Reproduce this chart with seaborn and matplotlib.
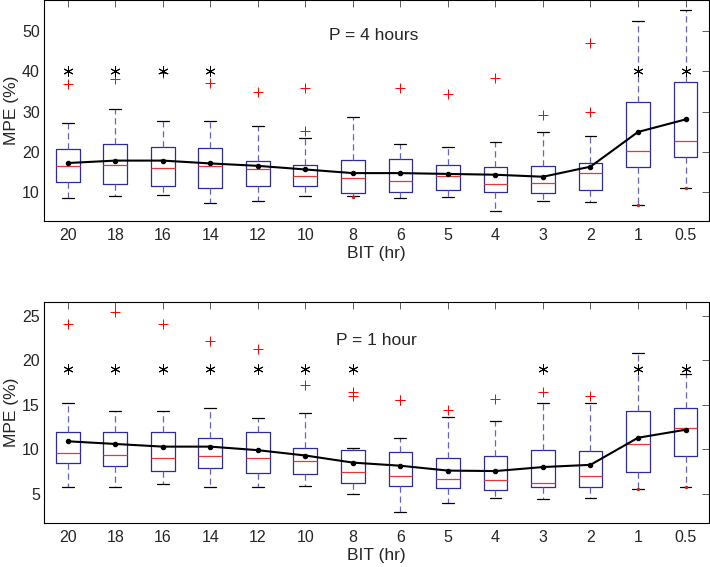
import numpy as np
import pandas as pd
import matplotlib
matplotlib.use("Agg")
import matplotlib.pyplot as plt
import seaborn as sns

bit = ["20", "18", "16", "14", "12", "10", "8", "6", "5", "4", "3", "2", "1", "0.5"]

p4_lo = [8.6, 9.1, 9.3, 7.5, 7.8, 9.1, 9.1, 8.6, 9.0, 5.5, 7.85, 7.6, 7.0, 11.2]
p4_q1 = [12.5, 12.0, 11.5, 11.0, 11.5, 11.5, 9.75, 10.2, 10.6, 10.2, 9.75, 10.7, 16.2, 18.9]
p4_med = [16.5, 16.8, 16.0, 16.5, 15.8, 14.0, 13.6, 12.8, 14.1, 12.2, 12.3, 14.8, 20.3, 22.7]
p4_q3 = [20.7, 21.9, 21.2, 20.9, 17.8, 16.7, 18.0, 18.4, 16.7, 16.2, 16.5, 17.2, 32.4, 37.3]
p4_hi = [27.1, 30.6, 27.8, 27.6, 26.4, 23.4, 28.8, 21.9, 21.2, 22.5, 25.1, 23.9, 52.5, 55.2]
p4_mean = [17.3, 17.9, 17.9, 17.2, 16.6, 15.7, 14.8, 14.8, 14.6, 14.4, 13.9, 16.4, 25.0, 28.1]
p4_out_bit = ["20", "18", "16", "14", "12", "10", "10", "6", "5", "4", "3", "2", "2"]
p4_out_val = [37.0, 38.0, 39.7, 37.1, 35.0, 25.2, 35.8, 35.8, 34.3, 38.3, 29.1, 29.9, 47.0]
p4_dot_bit = ["8", "1", "0.5"]
p4_dot_val = [9.0, 7.0, 11.2]
p4_star_bit = ["20", "18", "16", "14", "1", "0.5"]
p4_star_val = [40.0, 40.0, 40.0, 40.0, 40.0, 40.0]

# P = 1 hour
p1_lo = [5.7, 5.7, 6.05, 5.7, 5.7, 5.9, 5.0, 2.9, 3.9, 4.55, 4.45, 4.55, 5.55, 5.8]
p1_q1 = [8.45, 8.15, 7.5, 7.9, 7.3, 7.2, 6.2, 5.9, 5.6, 5.45, 5.7, 5.7, 7.4, 9.3]
p1_med = [9.6, 9.4, 9.05, 9.2, 9.05, 8.7, 7.4, 6.95, 6.7, 6.5, 6.2, 7.0, 10.6, 12.4]
p1_q3 = [12.0, 12.0, 11.9, 11.3, 12.0, 10.2, 9.9, 9.7, 9.05, 9.3, 9.9, 9.85, 14.3, 14.7]
p1_hi = [15.2, 14.3, 14.3, 14.7, 13.5, 14.1, 10.2, 11.3, 13.6, 13.2, 15.2, 15.2, 20.8, 18.5]
p1_mean = [10.9, 10.6, 10.3, 10.3, 9.9, 9.3, 8.5, 8.15, 7.6, 7.55, 8.0, 8.25, 11.3, 12.2]
p1_out_bit = ["20", "18", "16", "14", "12", "10", "8", "8", "6", "6", "5", "4", "3", "2"]
p1_out_val = [24.1, 25.5, 24.1, 22.2, 21.3, 17.2, 16.0, 16.4, 15.5, 15.6, 14.4, 15.7, 16.5, 16.0]
p1_dot_bit = ["1", "0.5"]
p1_dot_val = [5.55, 5.8]
p1_star_bit = ["20", "18", "16", "14", "12", "10", "8", "3", "1", "0.5"]
p1_star_val = [19.0, 19.0, 19.0, 19.0, 19.0, 19.0, 19.0, 19.0, 19.0, 19.0]

sns.set_style("white")
plt.rcParams["font.family"] = ["Liberation Sans", "DejaVu Sans"]

box_c = "#2c2c9c"
whisk_c = "#6464c8"
med_c = "#e03a3a"


def five_number_frame(lo, q1, med, q3, hi):
    rows = []
    for i, b in enumerate(bit):
        for v in (lo[i], q1[i], med[i], q3[i], hi[i]):
            rows.append((b, v))
    return pd.DataFrame(rows, columns=["BIT", "MPE"])


def draw_panel(ax, lo, q1, med, q3, hi, mean, out_bit, out_val, dot_bit, dot_val,
               star_bit, star_val, ylim, yticks, label, label_xy):
    df = five_number_frame(lo, q1, med, q3, hi)
    sns.boxplot(data=df, x="BIT", y="MPE", order=bit, whis=(0, 100), width=0.5,
                fill=False, showfliers=False, linewidth=0.9, ax=ax,
                boxprops=dict(color=box_c),
                whiskerprops=dict(color=whisk_c, linestyle=(0, (5, 3))),
                capprops=dict(color="black"),
                medianprops=dict(color=med_c))
    pos = np.arange(len(bit))
    sns.lineplot(x=pos, y=mean, color="black", marker="o", markersize=3.2,
                 markeredgecolor="black", linewidth=1.5, ax=ax, zorder=5)
    sns.scatterplot(x=[bit.index(b) for b in out_bit], y=out_val, marker="+",
                    color="red", s=45, linewidth=0.7, ax=ax, zorder=4)
    sns.scatterplot(x=[bit.index(b) for b in dot_bit], y=dot_val, marker="o",
                    color="#cc2020", s=6, linewidth=0, ax=ax, zorder=4)
    sns.scatterplot(x=[bit.index(b) for b in star_bit], y=star_val, marker=(6, 2, 0),
                    color="black", s=45, linewidth=0.7, ax=ax, zorder=4)
    ax.text(label_xy[0], label_xy[1], label, fontsize=12.5, va="center")
    ax.set_xlim(-0.5, 13.5)
    ax.set_ylim(*ylim)
    ax.set_xticks(pos)
    ax.set_xticklabels(bit)
    ax.set_yticks(yticks)
    ax.set_xlabel("BIT (hr)", fontsize=12.5, labelpad=2)
    ax.set_ylabel("MPE (%)", fontsize=12.5, labelpad=2)
    ax.tick_params(direction="in", top=True, right=True, length=5, width=0.6,
                   labelsize=11.5, color="#444444")
    ax.tick_params(axis="x", pad=5)
    ax.tick_params(axis="y", pad=3)
    for s in ax.spines.values():
        s.set_color("black")
        s.set_linewidth(0.8)


fig = plt.figure(figsize=(7.1, 5.67), dpi=100)
ax1 = fig.add_axes([0.062, 0.610, 0.937, 0.390])
ax2 = fig.add_axes([0.062, 0.0776, 0.937, 0.390])

draw_panel(ax1, p4_lo, p4_q1, p4_med, p4_q3, p4_hi, p4_mean, p4_out_bit, p4_out_val,
           p4_dot_bit, p4_dot_val, p4_star_bit, p4_star_val,
           (2.9, 57.7), [10, 20, 30, 40, 50], "P = 4 hours", (5.5, 48.8))
draw_panel(ax2, p1_lo, p1_q1, p1_med, p1_q3, p1_hi, p1_mean, p1_out_bit, p1_out_val,
           p1_dot_bit, p1_dot_val, p1_star_bit, p1_star_val,
           (1.7, 26.6), [5, 10, 15, 20, 25], "P = 1 hour", (5.65, 22.2))

fig.savefig("out.png", dpi=100)
